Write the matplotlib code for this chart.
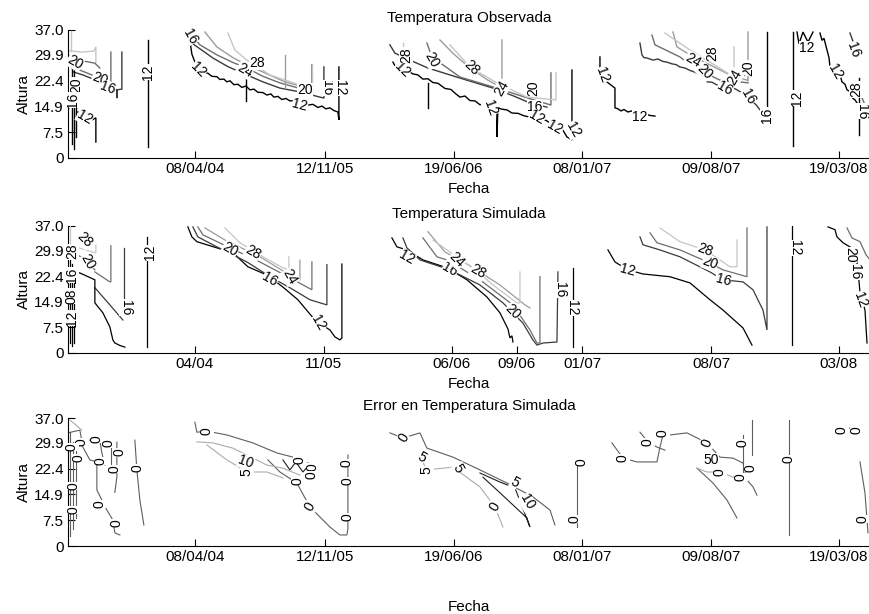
import numpy as np
import matplotlib
matplotlib.use("Agg")
from matplotlib import pyplot as plt

plt.rcParams['font.family'] = ['Liberation Sans', 'DejaVu Sans']

# axis ticks ------------------------------------------------------------
ytick_vals = [0, 7.5, 14.9, 22.4, 29.9, 37.0]
ytick_labels = ["0", "7.5", "14.9", "22.4", "29.9", "37.0"]
obs_tick_pos = [127, 257, 386, 514, 643, 771]
obs_tick_labels = ["08/04/04", "12/11/05", "19/06/06", "08/01/07", "09/08/07", "19/03/08"]
sim_tick_pos = [127, 256, 384, 449, 514, 643, 771]
sim_tick_labels = ["04/04", "11/05", "06/06", "09/06", "01/07", "08/07", "03/08"]

level_colors = {12: "#000000", 16: "#3a3a3a", 20: "#6e6e6e", 24: "#9c9c9c", 28: "#c6c6c6"}
err_colors = {0: "#5e5e5e", 5: "#ababab", 10: "#1e1e1e"}

# Observed temperature isolines (level, x index, altura) ----------------
obs_lines = [
    # first block
    (28, [2, 14, 26, 28, 28], [31.0, 30.6, 30.9, 32.1, 27.7]),
    (28, [3, 3], [36.7, 29.8]),
    (20, [2, 8, 16, 27, 32], [29.5, 28.9, 28.0, 27.4, 26.0]),
    (20, [4, 12, 24, 32, 38, 43, 43], [26.0, 25.4, 24.0, 22.8, 22.0, 21.7, 30.6]),
    (16, [5, 15, 28, 38, 46, 49, 49, 49, 54, 54], [24.9, 24.0, 22.5, 20.8, 19.9, 19.7, 17.3, 19.7, 19.9, 30.6]),
    (12, [4, 4], [30.0, 4.0]),
    (12, [6, 6], [26.0, 2.5]),
    (12, [8, 8], [22.0, 6.0]),
    (12, [10, 18, 24, 28, 28], [13.3, 12.1, 11.0, 11.6, 4.6]),
    (12, [80, 80], [34.1, 3.2]),
    # second block
    (12, [122, 123, 124, 126, 128, 132, 136, 140, 144, 149, 152, 156, 159, 162, 166, 170, 174, 178, 182, 186,
          190, 195, 199, 203, 206, 210, 214, 218, 222, 227, 232, 236, 240, 245, 250, 254, 258, 262, 266, 270, 271, 271],
         [34.1, 32.0, 30.0, 28.5, 27.0, 25.6, 24.8, 24.5, 23.6, 23.5, 22.7, 22.8, 22.0, 22.3, 21.2, 21.3, 20.4, 20.8,
          19.7, 19.9, 19.0, 18.9, 18.2, 18.5, 17.6, 17.8, 16.9, 17.2, 16.5, 16.6, 15.8, 16.1, 15.3, 15.5, 14.6, 15.0,
          14.2, 14.5, 13.7, 13.3, 11.0, 26.3]),
    (12, [178, 178], [22.8, 16.5]),
    (16, [120, 124, 145, 160, 179, 195, 212, 232, 256, 256], [35.5, 33.2, 28.9, 26.4, 24.0, 22.0, 20.2, 19.1, 17.3, 26.3]),
    (20, [122, 132, 149, 165, 179, 195, 212, 237, 244, 244], [36.1, 32.7, 29.8, 27.6, 26.0, 23.6, 21.7, 19.7, 18.8, 27.0]),
    (24, [137, 149, 165, 179, 200, 217, 232], [36.4, 32.1, 29.0, 26.9, 24.2, 22.0, 20.8]),
    (24, [217, 217], [29.8, 20.2]),
    (28, [160, 167, 179, 202, 232], [36.1, 31.2, 28.3, 24.0, 21.1]),
    (28, [244, 244], [26.9, 18.2]),
    # third block
    (12, [325, 328, 332, 336, 340, 345, 350, 355, 360, 365, 370, 377, 383, 388, 392, 397, 402, 407, 412, 416,
          419, 424, 429, 429, 430, 434, 439, 444, 450, 456, 462, 467, 472, 478, 485, 490, 495, 499, 504, 504],
         [27.7, 26.2, 26.0, 25.0, 25.2, 24.3, 24.0, 22.8, 22.9, 21.8, 21.6, 20.1, 19.8, 18.5, 17.6, 17.9, 16.6,
          16.5, 15.4, 15.6, 14.7, 14.9, 13.9, 6.1, 14.5, 14.1, 13.9, 13.0, 12.9, 12.2, 11.8, 11.9, 10.8, 10.9,
          9.5, 9.0, 8.0, 6.1, 5.2, 25.4]),
    (12, [360, 360], [21.7, 14.5]),
    (16, [322, 327, 345, 360, 392, 425, 445, 462, 479], [32.7, 30.3, 27.9, 26.0, 23.1, 20.2, 18.0, 15.9, 14.7]),
    (20, [359, 364, 392, 429, 460, 483, 483], [33.2, 29.2, 23.4, 20.2, 17.3, 15.3, 24.6]),
    (24, [372, 386, 402, 420, 434, 434], [34.1, 30.0, 26.0, 22.5, 20.2, 34.1]),
    (28, [382, 402, 429, 459, 488, 488], [32.7, 26.3, 21.7, 17.6, 16.8, 24.6]),
    (28, [335, 335], [33.2, 28.3]),
    # fourth block
    (12, [532, 532, 534, 547, 547, 550, 553, 556, 560, 564, 567, 570, 574, 577, 582, 587],
         [29.2, 24.9, 23.1, 20.2, 14.5, 14.2, 13.6, 14.0, 13.3, 13.6, 12.8, 12.4, 12.9, 12.7, 12.3, 12.1]),
    # fifth block
    (16, [572, 574, 576, 579, 585, 590, 595, 599, 604, 608, 612, 617, 622, 627, 632, 636, 639, 644, 649, 654,
          659, 664, 669, 674, 679, 683, 685, 688, 692, 697],
         [33.2, 29.8, 29.0, 28.9, 28.3, 28.6, 27.9, 27.7, 27.2, 27.0, 26.3, 26.0, 25.3, 24.8, 24.0, 23.5, 22.0,
          21.9, 21.1, 21.0, 20.2, 20.4, 19.7, 18.8, 17.6, 17.1, 16.2, 15.4, 13.9, 13.0]),
    (12, [699, 699], [36.4, 12.4]),
    (20, [584, 587, 612, 625, 652, 672, 680], [35.5, 32.7, 29.2, 26.3, 22.5, 22.0, 21.7]),
    (24, [605, 609, 622, 662, 679, 680, 680], [36.4, 32.1, 29.8, 24.0, 22.5, 22.2, 36.4]),
    (28, [597, 622, 642, 666, 666], [36.1, 31.2, 27.7, 23.4, 32.1]),
    # sixth block
    (12, [725, 725], [36.4, 3.5]),
    (12, [729, 731, 735, 740, 745], [36.4, 33.0, 36.4, 33.5, 36.4]),
    (12, [752, 754, 756, 759, 761, 762, 765, 769, 772, 774, 777, 779, 782, 785, 787, 789, 791],
         [36.1, 34.0, 34.6, 31.2, 29.0, 26.3, 26.8, 24.9, 24.0, 22.0, 21.3, 19.7, 19.2, 17.2, 16.8, 15.9, 15.3]),
    (12, [791, 791], [23.1, 6.6]),
    (16, [782, 786, 790], [36.1, 32.9, 30.6]),
    (20, [792, 797, 802], [18.8, 15.3, 12.4]),
]
obs_labels = [
    ("20", 7, 27.7, -30), ("20", 32, 22.8, -20), ("16", 40, 20.2, -20), ("20", 8, 21.0, 90),
    ("16", 5, 16.8, 90), ("12", 17, 11.8, -30), ("12", 80, 24.9, 90),
    ("12", 130, 25.4, -45), ("24", 177, 25.4, -30), ("28", 189, 27.5, 0), ("20", 237, 19.7, 0),
    ("12", 232, 15.3, -15), ("16", 259, 20.2, 270), ("12", 272, 20.2, 270), ("16", 122, 35.0, -60),
    ("12", 334, 25.4, -45), ("20", 364, 28.3, -60), ("28", 404, 26.0, -45), ("28", 338, 29.8, 90),
    ("24", 434, 20.2, 60), ("12", 422, 14.5, -70), ("16", 467, 14.7, 0), ("20", 465, 20.2, 90),
    ("12", 469, 11.6, -30), ("12", 487, 8.7, -30), ("12", 505, 8.1, -60),
    ("12", 534, 24.0, -70), ("12", 572, 11.8, 0),
    ("16", 657, 20.2, -30), ("16", 680, 17.6, -60), ("16", 699, 12.4, 90), ("20", 637, 24.9, -45),
    ("24", 625, 28.3, -30), ("20", 680, 26.0, 90), ("28", 644, 30.3, 90), ("24", 667, 23.4, 60),
    ("12", 729, 17.3, 90), ("12", 739, 31.8, 0), ("12", 767, 24.9, -60), ("16", 785, 31.2, -70),
    ("28", 788, 19.8, 90), ("16", 794, 13.5, -90),
]

# Simulated temperature isolines -------------------------------------
sim_lines = [
    (28, [0, 27, 28, 28], [31.5, 29.2, 29.2, 31.5]),
    (28, [2, 2], [37.0, 31.5]),
    (20, [0, 15, 27], [30.0, 27.7, 24.2]),
    (20, [27, 42, 43, 43], [23.6, 20.7, 20.7, 31.2]),
    (16, [27, 42, 55], [19.0, 14.0, 9.6]),
    (16, [56, 56], [30.6, 16.0]),
    (12, [0, 12, 27, 27, 35, 42, 45, 47, 52, 57], [24.2, 23.3, 21.3, 14.6, 11.7, 7.6, 3.8, 2.9, 2.2, 1.7]),
    (12, [2, 2], [28.0, 3.0]),
    (12, [4, 4], [26.0, 2.0]),
    (12, [6, 6], [22.0, 3.0]),
    (12, [79, 79], [33.8, 1.7]),
    (12, [120, 124, 129, 149, 165, 180, 199, 215, 230, 247, 262, 267, 272, 274, 274],
         [36.7, 33.8, 32.4, 30.6, 29.2, 25.1, 22.7, 19.2, 15.5, 9.6, 6.7, 4.7, 3.8, 4.4, 25.9]),
    (16, [125, 130, 145, 179, 204, 222, 242, 259, 259], [36.7, 33.8, 31.5, 26.5, 21.9, 19.0, 15.5, 14.0, 25.7]),
    (20, [130, 135, 160, 192, 222, 244, 244], [36.7, 34.4, 30.9, 26.5, 21.9, 18.4, 26.5]),
    (24, [137, 157, 192, 222, 230, 232, 232], [36.4, 32.9, 28.0, 22.7, 21.3, 21.3, 27.0]),
    (28, [157, 172, 197, 215, 221, 221], [36.4, 32.1, 27.7, 24.8, 24.2, 28.0]),
    (12, [324, 329, 339, 355, 379, 399, 419, 432, 440, 442, 444, 445], [33.5, 30.9, 30.0, 27.1, 24.8, 21.3, 16.3, 11.7, 7.0, 4.4, 5.0, 3.2]),
    (16, [335, 339, 352, 382, 412, 435, 455, 465, 469, 475, 489, 490], [33.5, 30.6, 27.1, 24.2, 19.8, 14.6, 8.7, 3.8, 2.3, 2.9, 3.2, 23.6]),
    (20, [355, 369, 379, 412, 445, 462, 469, 472, 472], [33.5, 28.0, 27.1, 21.3, 14.0, 6.7, 2.9, 2.9, 22.2]),
    (24, [360, 377, 402, 432, 457, 462], [35.3, 29.4, 25.4, 19.8, 14.0, 13.1]),
    (28, [365, 379, 410, 425, 449, 452, 452], [32.9, 30.0, 23.6, 19.8, 14.6, 14.6, 23.6]),
    (12, [505, 505], [24.8, 1.7]),
    (12, [540, 547, 560, 575, 602, 622, 642, 655, 675, 684], [30.0, 26.5, 24.2, 23.0, 22.2, 20.4, 15.5, 12.5, 7.3, 2.3]),
    (16, [572, 575, 592, 612, 642, 655, 675, 685, 695, 699, 699], [33.8, 31.5, 30.0, 28.0, 23.6, 21.3, 20.7, 18.4, 12.5, 6.7, 36.7]),
    (20, [582, 589, 612, 642, 655, 679, 679], [35.0, 32.1, 30.0, 26.2, 24.2, 22.2, 36.4]),
    (28, [592, 599, 612, 637, 662, 669, 669], [36.4, 35.0, 32.4, 30.0, 25.1, 25.1, 32.9]),
    (12, [724, 724], [37.0, 2.3]),
    (12, [760, 767, 769, 775, 787, 790, 792, 797, 799], [36.7, 35.9, 33.8, 32.1, 30.0, 24.2, 17.5, 12.5, 2.9]),
    (20, [779, 784, 792, 798, 802], [36.4, 33.5, 32.4, 28.6, 27.1]),
]
sim_labels = [
    ("28", 17, 32.9, -45), ("20", 20, 26.5, -60), ("16", 58, 13.1, 270), ("12", 82, 29.2, 90),
    ("16", 4, 22.7, 90), ("12", 4, 10.2, 90), ("28", 4, 29.5, 90), ("08", 4, 16.5, 90),
    ("12", 250, 8.7, -60), ("16", 202, 21.3, -30), ("20", 162, 30.0, -30), ("24", 222, 22.2, -60),
    ("28", 185, 29.2, -30),
    ("12", 339, 27.7, -30), ("16", 382, 24.2, -30), ("16", 492, 18.4, 270), ("20", 445, 12.0, -45),
    ("24", 389, 27.1, -45), ("28", 410, 23.6, -30), ("12", 504, 13.1, 270),
    ("12", 560, 24.2, -15), ("16", 655, 21.3, -15), ("20", 642, 26.2, -20), ("28", 637, 30.0, -20),
    ("12", 727, 30.6, 270), ("12", 792, 15.5, -70), ("20", 782, 28.6, 270), ("16", 787, 23.6, 270),
]

# Error in simulated temperature isolines ------------------------------
err_lines = [
    (0, [0, 12, 15, 22, 29, 29, 39, 45, 47, 52], [32.7, 33.5, 28.6, 24.9, 24.3, 16.2, 10.4, 7.5, 3.8, 3.2]),
    (0, [12, 32, 34, 37], [30.6, 30.6, 26.9, 23.4]),
    (0, [67, 69, 72, 76], [30.6, 22.0, 13.3, 6.1]),
    (0, [2, 2], [33.0, 3.0]),
    (0, [5, 5], [30.0, 5.0]),
    (0, [8, 8], [28.0, 8.0]),
    (0, [43, 43], [30.6, 22.0]),
    (0, [49, 49, 47], [30.0, 20.0, 15.5]),
    (5, [2, 8, 14], [36.4, 35.0, 33.5]),
    (0, [127, 129, 139, 159, 185, 209, 225, 245], [35.8, 32.9, 33.2, 32.1, 29.8, 26.9, 25.7, 23.4]),
    (0, [200, 212, 229, 242, 262, 272, 279, 280, 280], [24.9, 21.4, 18.2, 11.3, 5.5, 3.2, 3.2, 5.0, 26.3]),
    (5, [129, 145, 165, 199, 215, 232], [30.1, 29.8, 28.3, 23.4, 22.5, 20.5]),
    (5, [139, 159, 179, 199, 215], [29.2, 24.9, 21.4, 21.4, 19.7]),
    (10, [215, 222, 228, 235, 242, 248], [24.9, 22.0, 24.3, 21.4, 23.7, 20.2]),
    (0, [322, 335, 352, 359, 385, 412, 439, 465, 482, 487], [32.7, 31.2, 32.7, 28.3, 25.7, 22.0, 18.2, 14.2, 10.4, 6.1]),
    (5, [352, 359, 385, 412, 427, 435], [25.7, 22.0, 22.8, 17.1, 11.3, 5.5]),
    (10, [412, 432, 447, 462, 459, 429, 415], [21.1, 18.5, 16.8, 5.5, 8.1, 16.2, 19.9]),
    (0, [509, 509], [24.9, 5.5]),
    (0, [544, 555, 569, 589, 592, 595, 602, 619, 639, 652, 665, 675, 679, 685, 689],
        [29.8, 25.4, 24.3, 24.3, 28.6, 32.1, 32.1, 32.7, 29.8, 25.7, 25.4, 24.0, 19.1, 17.1, 14.7]),
    (0, [572, 580, 589, 597], [32.9, 30.1, 28.6, 27.7]),
    (0, [629, 645, 659, 669], [22.5, 18.2, 13.3, 8.1]),
    (5, [629, 639, 652, 665, 675], [22.5, 21.4, 21.4, 19.9, 20.5]),
    (0, [675, 675], [32.1, 19.1]),
    (0, [684, 684], [36.4, 26.3]),
    (0, [721, 721], [36.4, 3.2]),
    (0, [772, 782, 789], [33.5, 34.1, 33.5]),
    (0, [792, 797, 800], [24.3, 15.3, 3.8]),
]
err_labels = [
    ("0", 29, 30.9, 90), ("0", 14, 30.1, 90), ("0", 11, 25.5, 90), ("0", 33, 24.6, 90),
    ("0", 41, 29.6, 90), ("0", 52, 27.0, 90), ("0", 47, 22.3, 90), ("0", 32, 12.1, 90),
    ("0", 49, 6.6, 90), ("0", 6, 17.3, 90), ("0", 6, 10.4, 90), ("0", 4, 28.6, 90), ("0", 70, 22.5, 90),
    ("0", 139, 33.2, 90), ("10", 178, 24.3, -20), ("5", 179, 21.4, 90), ("0", 242, 11.3, 60),
    ("0", 279, 24.0, 90), ("0", 280, 18.8, 90), ("0", 280, 8.4, 90), ("0", 232, 24.9, 90),
    ("0", 245, 22.8, 90), ("0", 244, 20.5, 90), ("0", 230, 18.8, 90),
    ("0", 336, 31.2, 60), ("5", 354, 25.7, -30), ("5", 359, 22.0, 90), ("5", 390, 22.5, -60),
    ("0", 427, 11.3, 60), ("5", 447, 18.5, -30), ("10", 459, 12.7, -60),
    ("0", 514, 24.3, 90), ("0", 507, 7.8, 90),
    ("0", 555, 25.4, 90), ("0", 580, 30.1, 90), ("0", 595, 32.7, 90), ("0", 639, 29.8, 70),
    ("0", 652, 21.4, 90), ("0", 675, 29.8, 90), ("0", 673, 20.0, 90), ("0", 683, 22.6, 90),
    ("50", 643, 24.9, 0), ("0", 721, 25.1, 90), ("0", 774, 33.5, 90), ("0", 789, 33.5, 90),
    ("0", 795, 7.8, 90),
]


def contour_panel(ax, lines, labels, colors, title, tick_pos, tick_labels, lw, xlabel_pad):
    """Draws a set of isolines with their inline labels in MATLAB style."""
    for level, xs, ys in lines:
        ax.plot(xs, ys, color=colors[level], lw=lw, solid_joinstyle="miter")
    for txt, x, y, rot in labels:
        ax.text(x, y, txt, fontsize=10, rotation=rot, ha="center", va="center",
                rotation_mode="anchor",
                bbox=dict(facecolor="white", edgecolor="none", pad=0.2))
    ax.set_xlim(0, 802)
    ax.set_ylim(0, 37)
    ax.set_yticks(ytick_vals)
    ax.set_yticklabels(ytick_labels)
    ax.set_xticks(tick_pos)
    ax.set_xticklabels(tick_labels)
    ax.tick_params(direction="in", length=5, labelsize=11, pad=3)
    ax.spines["top"].set_visible(False)
    ax.spines["right"].set_visible(False)
    ax.set_title(title, fontsize=11, pad=6)
    ax.set_ylabel("Altura", fontsize=11, labelpad=2)
    ax.set_xlabel("Fecha", fontsize=11, labelpad=xlabel_pad)


fig = plt.figure(figsize=(8.7, 6.14), dpi=100)
ax1 = fig.add_axes([0.078, 0.7427, 0.922, 0.2085])
ax2 = fig.add_axes([0.078, 0.4251, 0.922, 0.2070])
ax3 = fig.add_axes([0.078, 0.1107, 0.922, 0.2085])

contour_panel(ax1, obs_lines, obs_labels, level_colors, "Temperatura Observada",
              obs_tick_pos, obs_tick_labels, 1.0, 4)
contour_panel(ax2, sim_lines, sim_labels, level_colors, "Temperatura Simulada",
              sim_tick_pos, sim_tick_labels, 0.9, 4)
contour_panel(ax3, err_lines, err_labels, err_colors, "Error en Temperatura Simulada",
              obs_tick_pos, obs_tick_labels, 0.8, 26)

fig.savefig("out.png", dpi=100)
